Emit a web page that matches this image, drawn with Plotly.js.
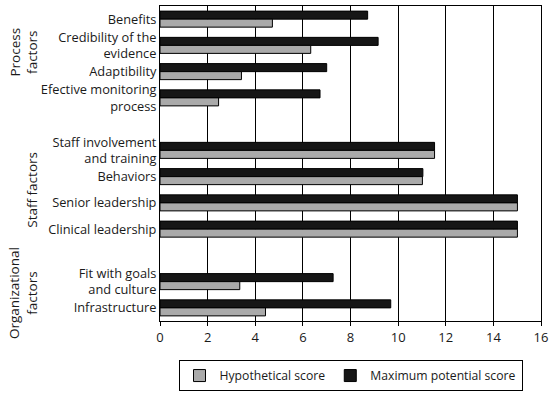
<!DOCTYPE html>
<html><head><meta charset="utf-8">
<script src="https://cdn.plot.ly/plotly-3.0.1.min.js"></script>
<style>body{margin:0;background:#fff}#c{width:558px;height:397px}</style>
</head><body><div id="c"></div>
<script>
const categories = ["Benefits","Credibility of the<br>evidence","Adaptibility","Efective monitoring<br>process",
  "Staff involvement<br>and training","Behaviors","Senior leadership","Clinical leadership",
  "Fit with goals<br>and culture","Infrastructure"];
const positions = [0,1,2,3,5,6,7,8,10,11];
const hypothetical = [4.72,6.33,3.42,2.46,11.53,11.02,15.01,15.01,3.35,4.43];
const maximum = [8.72,9.16,7.0,6.72,11.53,11.04,15.01,15.01,7.27,9.69];
const groups = ["Process<br>factors","Staff factors","Organizational<br>factors"];
const groupPos = [1.25,6.5,10.45];

const font = {family:"Open Sans, sans-serif", size:12, color:"#1a1a1a"};
const traces = [
  {type:"bar", orientation:"h", name:"Maximum potential score", y:positions, x:maximum,
   marker:{color:"#161616", line:{color:"#000", width:1}}},
  {type:"bar", orientation:"h", name:"Hypothetical score", y:positions, x:hypothetical,
   marker:{color:"#aaaaaa", line:{color:"#000", width:1}}}
];
const annotations = groups.map((g,i)=>({
  text:g, xref:"paper", yref:"y", x:(i===1? -0.336 : -0.358), y:groupPos[i],
  textangle:-90, showarrow:false, xanchor:"center", yanchor:"middle",
  font:{family:font.family, size:13.5, color:"#1a1a1a"}
}));
const layout = {
  width:558, height:397, margin:{l:160, r:17, t:6, b:76},
  paper_bgcolor:"#fff", plot_bgcolor:"#fff", font:font,
  barmode:"group", bargap:0.39, bargroupgap:0, showlegend:true,
  xaxis:{range:[0,16], dtick:2, tick0:0, showgrid:true, gridcolor:"#000", gridwidth:1,
    showline:true, linecolor:"#000", linewidth:1, mirror:true, ticks:"outside", ticklen:4,
    tickcolor:"#000", zeroline:false, tickfont:{size:13}, fixedrange:true},
  yaxis:{range:[11.5,-0.5], tickvals:positions, ticktext:categories, showgrid:false,
    showline:true, linecolor:"#000", linewidth:1, mirror:true, ticks:"", zeroline:false,
    tickfont:{size:12.8}, fixedrange:true},
  legend:{orientation:"h", x:0.5, xanchor:"center", y:-0.124, yanchor:"top",
    traceorder:"reversed", bordercolor:"#000", borderwidth:1, font:{size:12.2},
    itemwidth:30, entrywidth:0},
  annotations:annotations
};
Plotly.newPlot("c", traces, layout, {displayModeBar:false, staticPlot:true});
</script></body></html>
